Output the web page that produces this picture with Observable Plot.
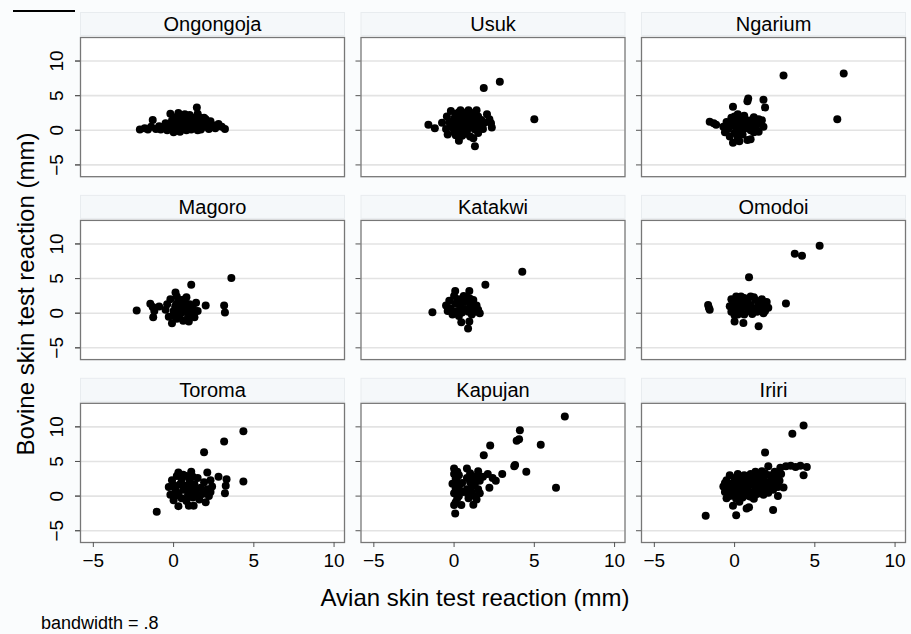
<!DOCTYPE html>
<html>
<head>
<meta charset="utf-8">
<script src="https://cdn.jsdelivr.net/npm/d3@7"></script>
<script src="https://cdn.jsdelivr.net/npm/@observablehq/plot@0.6"></script>
<style>
  body { margin: 0; background: #fafcfd; }
  #wrap { position: relative; width: 911px; height: 634px; font-family: "Liberation Sans", Arial, sans-serif; }
  #mark { position: absolute; left: 13px; top: 10px; width: 62px; border-top: 2px solid #000; }
  #caption { height: 22px; line-height: 22px; font-size: 18px; padding-left: 41px; color: #000; }
</style>
</head>
<body>
<div id="wrap">
  <div id="mark"></div>
  <div id="chart"></div>
  <div id="caption">bandwidth = .8</div>
</div>
<script>
// ---- data (avian mm, bovine mm) ----
const sites = ["Ongongoja", "Usuk", "Ngarium", "Magoro", "Katakwi", "Omodoi", "Toroma", "Kapujan", "Iriri"];
const xTicks = [-5, 0, 5, 10];
const yTicks = [-5, 0, 5, 10];
const xTitle = "Avian skin test reaction (mm)";
const yTitle = "Bovine skin test reaction (mm)";

const ongongoja = [[-2.1,0.1],[-1.8,0.3],[-1.6,0.1],[-1.4,0.5],[-1.3,1.5],[-1.1,0.2],[-0.9,0.6],[-0.8,0.1],[-0.6,0.4],[-0.5,1.0],
[-0.4,0.0],[-0.3,0.7],[-0.2,2.4],[-0.1,1.4],[0.0,-0.3],[0.0,0.5],[0.1,1.9],[0.2,0.2],[0.2,1.1],[0.3,2.5],
[0.4,-0.2],[0.4,0.8],[0.5,1.6],[0.6,0.3],[0.6,2.1],[0.7,1.0],[0.8,0.0],[0.8,1.7],[0.9,0.6],[1.0,2.2],
[1.0,1.2],[1.1,0.1],[1.2,0.8],[1.2,1.8],[1.3,0.4],[1.4,1.3],[1.45,3.3],[1.5,2.4],[1.6,0.7],[1.6,1.9],
[1.7,0.1],[1.8,1.2],[1.9,0.5],[2.0,1.6],[2.1,0.9],[2.2,0.2],[2.3,1.3],[2.5,0.7],[2.6,0.3],[2.8,0.9],
[3.0,0.5],[3.2,0.2],[0.3,0.0],[0.9,0.3],[1.5,0.0],[-0.2,0.2],[0.5,1.3],[1.1,1.5],[1.8,0.8],[0.7,2.3],
[0.1,0.6],[0.6,0.7],[1.3,1.0],[1.9,1.8],[0.4,1.4],[1.0,0.8]];

const usuk = [[-1.6,0.8],[-1.2,0.3],[-0.75,1.1],[-0.5,0.2],[-0.45,2.0],[-0.4,-0.6],[-0.3,1.2],[-0.2,2.8],[-0.1,0.4],[0.0,-0.3],
[0.0,1.7],[0.1,2.4],[0.2,0.9],[0.3,-1.5],[0.3,0.0],[0.4,1.4],[0.4,2.9],[0.5,-0.8],[0.5,0.5],[0.6,2.0],
[0.7,-0.2],[0.7,1.1],[0.8,2.6],[0.9,0.3],[0.9,1.7],[1.0,-0.9],[1.0,2.2],[1.1,0.8],[1.2,-1.15],[1.2,1.4],
[1.3,-2.3],[1.3,0.1],[1.4,2.9],[1.4,1.0],[1.5,-0.4],[1.5,2.0],[1.6,0.6],[1.7,1.5],[1.8,0.2],[1.9,1.1],
[2.05,2.3],[2.2,1.6],[2.35,0.4],[2.3,1.0],[1.85,6.1],[2.85,7.0],[5.0,1.6],[0.2,2.0],[0.6,1.0],[1.1,2.5],
[-0.2,0.8],[0.8,-0.5],[1.3,1.8],[0.1,-0.7],[0.0,1.0],[0.5,1.6],[1.0,0.4],[1.6,1.1],[0.3,2.6],[0.9,2.9]];

const ngarium = [[-1.55,1.25],[-1.3,1.0],[-1.15,0.8],[-0.7,0.5],[-0.6,-0.3],[-0.5,1.2],[-0.4,0.2],[-0.3,-0.9],[-0.2,1.8],[-0.1,3.4],
[-0.1,-1.8],[0.0,0.6],[0.0,-0.4],[0.1,1.3],[0.2,2.3],[0.2,-1.1],[0.3,0.2],[0.4,1.6],[0.5,-0.6],[0.5,0.9],
[0.6,2.1],[0.7,0.3],[0.8,4.2],[0.85,4.6],[0.8,-1.4],[0.9,1.4],[1.0,0.0],[1.0,-1.3],[1.1,0.8],[1.2,1.9],
[1.3,0.4],[1.4,1.2],[1.5,-0.2],[1.6,0.9],[1.7,1.45],[1.8,4.4],[1.9,3.3],[1.8,0.5],[3.05,7.9],[6.8,8.2],
[6.4,1.6],[0.3,-1.6],[-0.3,0.9],[0.6,1.3],[1.2,-0.3],[0.0,2.0],[0.4,-0.2],[1.5,1.6],[0.2,0.7],[0.8,0.9]];

const magoro = [[-2.3,0.4],[-1.45,1.35],[-1.3,0.9],[-1.27,-0.6],[-1.2,0.3],[-0.9,0.95],[-0.5,0.5],[-0.4,1.3],[-0.3,-0.5],[-0.2,2.0],
[-0.1,-1.45],[0.0,0.3],[0.1,1.0],[0.12,3.0],[0.2,-0.8],[0.2,2.4],[0.3,0.6],[0.4,1.6],[0.4,-0.2],[0.5,0.1],
[0.6,1.1],[0.6,-1.1],[0.7,2.0],[0.8,2.3],[0.8,0.4],[0.9,-0.5],[0.95,-1.2],[1.0,1.3],[1.1,4.1],[1.1,0.0],
[1.2,0.8],[1.3,-0.6],[1.4,1.5],[1.5,0.3],[2.0,1.1],[3.15,1.1],[3.2,0.1],[3.6,5.1],[0.2,1.4],[0.0,-0.4],
[1.0,0.7],[0.5,1.9]];

const katakwi = [[-1.35,0.15],[-0.5,1.1],[-0.4,0.3],[-0.3,1.8],[-0.2,0.7],[-0.1,-0.2],[0.0,2.5],[0.07,3.2],[0.1,1.4],[0.2,0.3],
[0.3,2.0],[0.3,-0.4],[0.4,1.0],[0.45,-1.3],[0.5,0.1],[0.6,1.6],[0.7,0.6],[0.8,2.3],[0.87,-2.2],[0.9,0.2],
[0.95,-1.2],[0.95,3.2],[1.0,1.3],[1.1,0.7],[1.2,1.9],[1.3,0.2],[1.4,1.1],[1.5,0.5],[1.6,0.0],[1.95,4.1],
[4.25,6.0],[0.2,1.6],[1.1,-0.2],[0.6,2.5],[1.0,2.1]];

const omodoi = [[-1.65,1.2],[-1.55,0.5],[-1.6,0.8],[-0.3,1.0],[-0.2,2.0],[-0.2,0.2],[-0.1,1.5],[0.0,-0.3],[0.0,-1.2],[0.1,2.4],
[0.1,0.7],[0.2,1.2],[0.3,0.0],[0.3,1.9],[0.4,0.5],[0.5,1.4],[0.55,-1.4],[0.6,2.2],[0.6,-0.2],[0.7,0.9],
[0.8,1.7],[0.9,0.3],[0.9,5.2],[1.0,2.4],[1.0,1.2],[1.1,-0.1],[1.2,0.7],[1.3,1.9],[1.4,0.2],[1.5,1.3],
[1.5,-1.9],[1.6,0.6],[1.7,2.0],[1.8,1.0],[1.9,0.3],[2.0,1.6],[2.1,0.8],[3.2,1.4],[3.75,8.6],[4.2,8.3],
[5.3,9.75],[0.4,2.4],[1.2,2.3],[0.2,-0.2],[1.8,0.0]];

const toroma = [[-1.05,-2.25],[-0.3,1.3],[-0.2,0.2],[-0.1,2.3],[0.0,-0.6],[0.1,1.0],[0.2,2.9],[0.3,3.4],[0.3,-1.45],[0.3,0.4],
[0.4,1.7],[0.5,-0.3],[0.5,2.4],[0.6,0.9],[0.7,1.5],[0.8,-0.7],[0.8,2.9],[0.9,0.2],[0.95,-1.4],[1.0,1.2],
[1.0,2.2],[1.1,3.5],[1.1,0.5],[1.2,-0.2],[1.25,-1.4],[1.3,1.7],[1.4,0.8],[1.5,2.6],[1.6,-0.5],[1.7,1.2],
[1.8,0.3],[1.9,2.0],[1.9,6.35],[2.0,-0.9],[2.1,3.4],[2.1,1.0],[2.2,0.0],[2.3,2.3],[2.4,1.4],[2.8,2.8],
[3.15,7.9],[3.2,0.4],[3.3,2.45],[3.25,1.5],[4.35,9.35],[4.35,2.1],[0.1,0.0],[0.6,3.1],[1.5,0.1],[2.3,0.6],
[0.0,1.6],[1.2,2.8]];

const kapujan = [[0.0,4.0],[0.0,3.2],[0.1,2.5],[-0.1,1.8],[0.1,1.1],[0.0,0.4],[0.2,-0.3],[0.1,-0.9],[0.0,-1.3],[0.07,-2.5],
[0.3,3.0],[0.3,1.4],[0.4,0.7],[0.45,-1.3],[0.3,0.0],[0.2,2.0],[0.5,1.9],[0.8,4.0],[0.8,2.6],[0.8,1.0],
[0.9,0.2],[0.9,-0.3],[1.0,2.0],[1.0,3.3],[1.1,1.4],[1.1,0.5],[1.2,-1.25],[1.2,2.4],[1.3,0.0],[1.3,1.8],
[1.4,2.9],[1.5,1.0],[1.5,3.6],[1.6,2.2],[1.6,0.4],[1.8,2.8],[2.1,3.2],[2.2,1.2],[2.4,2.6],[2.6,2.2],
[3.0,3.2],[1.85,5.9],[2.25,7.3],[3.75,4.3],[3.8,4.5],[4.5,3.5],[3.9,8.0],[4.05,8.2],[4.1,9.5],[5.4,7.4],
[6.35,1.2],[6.9,11.5],[0.6,0.6],[1.4,-0.5],[0.2,3.5]];

const iriri = [[-1.8,-2.85],[-0.7,1.4],[-0.6,0.6],[-0.5,2.3],[-0.5,-0.3],[-0.4,1.0],[-0.3,3.0],[-0.3,0.0],[-0.2,1.8],[-0.1,-1.4],
[-0.1,0.5],[0.0,2.6],[0.0,1.2],[0.1,-2.75],[0.1,-0.4],[0.2,3.2],[0.2,0.8],[0.2,1.9],[0.3,0.1],[0.4,2.4],
[0.4,1.4],[0.5,-0.2],[0.5,0.7],[0.6,3.0],[0.6,1.9],[0.7,0.3],[0.75,-1.8],[0.8,1.2],[0.8,2.5],[0.9,-1.6],
[0.9,0.0],[1.0,1.7],[1.0,3.2],[1.1,0.6],[1.2,2.3],[1.2,-0.4],[1.3,1.1],[1.3,3.5],[1.4,0.3],[1.5,2.0],
[1.5,2.9],[1.6,0.9],[1.7,3.6],[1.7,1.5],[1.8,0.2],[1.8,2.5],[1.9,6.3],[1.9,3.3],[2.0,1.1],[2.0,2.0],
[2.1,0.5],[2.2,3.0],[2.2,1.6],[2.3,2.4],[2.4,-2.0],[2.4,0.9],[2.5,3.5],[2.5,1.8],[2.6,2.7],[2.7,0.0],
[2.7,1.3],[2.8,2.2],[2.9,3.2],[2.85,4.1],[3.05,1.25],[3.2,4.3],[3.5,4.4],[3.8,4.2],[4.1,4.4],[4.3,3.0],
[4.5,4.2],[3.6,9.0],[4.3,10.2],[0.3,-0.8],[1.0,-0.1],[0.0,0.0],[-0.6,1.9],[1.4,1.4],[0.6,2.5],[2.1,4.3],
[-0.2,0.9],[0.3,1.6],[1.1,2.7],[1.6,2.3],[2.3,1.2],[0.7,0.9]];

const siteData = [ongongoja, usuk, ngarium, magoro, katakwi, omodoi, toroma, kapujan, iriri];

// ---- build tables ----
const panels = sites.map((name, i) => ({name, col: i % 3, row: Math.floor(i / 3)}));
const points = siteData.flatMap((arr, i) =>
  arr.map(([avian, bovine]) => ({avian, bovine, col: i % 3, row: Math.floor(i / 3)})));

// ---- layout ----
const W = 911, H = 612;
const mT = 37, mB = 70, mL = 80, mR = 6;
const padX = 0.0588, padY = 0.239;
const bwY = (H - mT - mB) / (3 - padY) * (1 - padY);
const font = "'Liberation Sans', Arial, sans-serif";

const chart = Plot.plot({
  width: W, height: H,
  marginTop: mT, marginBottom: mB, marginLeft: mL, marginRight: mR,
  style: {fontFamily: font, fontSize: "19px", background: "transparent", color: "#000"},
  x: {domain: [-5.8, 10.65]},
  y: {domain: [-6.7, 13.4]},
  fx: {axis: null, paddingInner: padX, paddingOuter: 0, round: false},
  fy: {axis: null, paddingInner: padY, paddingOuter: 0, round: false},
  marks: [
    // header strip
    Plot.frame({fill: "#f5f8fa", stroke: "#e8ecef", insetTop: -25, insetBottom: bwY + 2}),
    // plot region
    Plot.frame({fill: "#ffffff", stroke: "none"}),
    Plot.text(panels, {fx: "col", fy: "row", text: "name", frameAnchor: "top", lineAnchor: "top", dy: -21, fontSize: 20}),
    Plot.gridY(yTicks, {stroke: "#e3e3e3", strokeOpacity: 1, strokeWidth: 1.6}),
    Plot.dot(points, {fx: "col", fy: "row", x: "avian", y: "bovine", r: 4, fill: "#000", stroke: "none"}),
    Plot.frame({stroke: "#777", strokeWidth: 1.3}),
    // ticks on every panel
    Plot.axisY({ticks: yTicks, tickSize: 5, tickFormat: () => "", label: null, facetAnchor: null, stroke: "#555"}),
    // labelled axes
    Plot.axisY({ticks: yTicks, tickSize: 5, tickRotate: -90, tickPadding: 13, label: null, stroke: "#555", fontSize: 19}),
    Plot.axisX({ticks: xTicks, tickSize: 5, tickPadding: 6, label: null, stroke: "#555", fontSize: 19}),
    // axis titles
    Plot.text([yTitle], {facet: "super", frameAnchor: "left", textAnchor: "middle", lineAnchor: "middle", rotate: -90, dx: -54, dy: 4, fontSize: 24}),
    Plot.text([xTitle], {facet: "super", frameAnchor: "bottom", lineAnchor: "bottom", dx: -18, dy: 63, fontSize: 24})
  ]
});
document.getElementById("chart").appendChild(chart);
</script>
</body>
</html>
